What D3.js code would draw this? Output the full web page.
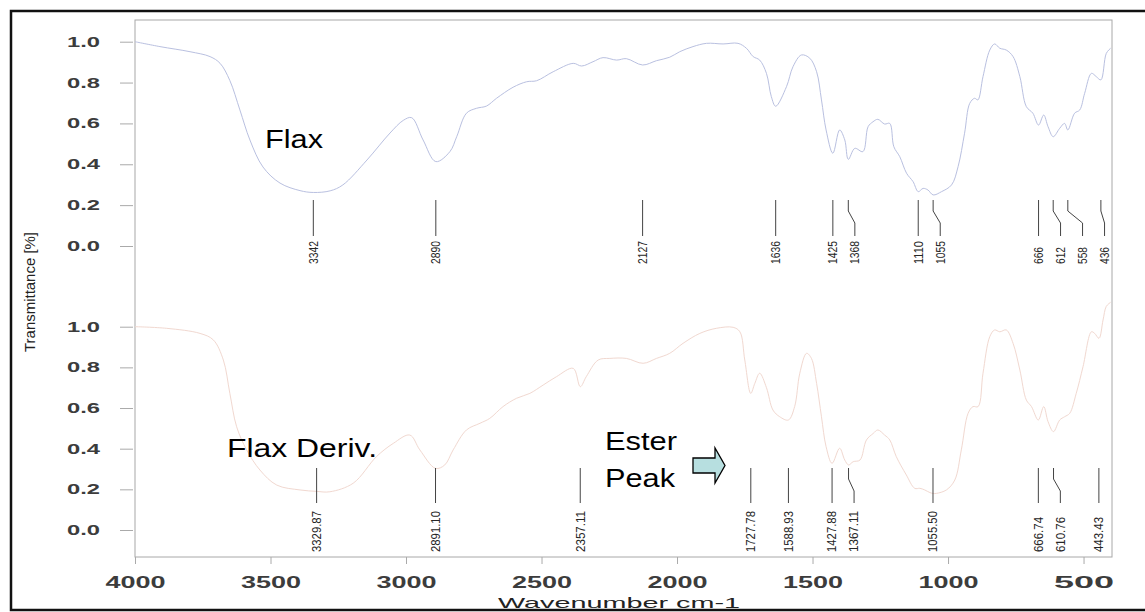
<!DOCTYPE html>
<html>
<head>
<meta charset="utf-8">
<script src="https://cdn.jsdelivr.net/npm/d3@7"></script>
<style>
  html, body { margin: 0; padding: 0; background: #fff; }
  svg { display: block; }
</style>
</head>
<body>
<svg id="chart" width="1145" height="612"></svg>
<script>
// ---------- DATA ----------
const flaxWavenumber = [4000, 3908, 3797, 3723, 3686, 3650, 3613, 3576, 3528, 3465, 3391, 3342, 3280, 3233, 3144, 3059, 3010, 2979, 2937, 2890, 2838, 2813, 2777, 2740, 2703, 2666, 2605, 2555, 2518, 2457, 2383, 2352, 2310, 2273, 2223, 2187, 2127, 2076, 2027, 1990, 1941, 1891, 1830, 1775, 1744, 1719, 1695, 1670, 1652, 1636, 1596, 1572, 1541, 1510, 1485, 1467, 1450, 1425, 1400, 1381, 1368, 1344, 1314, 1295, 1277, 1259, 1234, 1215, 1200, 1178, 1153, 1129, 1110, 1092, 1074, 1055, 1024, 987, 963, 939, 920, 902, 890, 871, 846, 828, 809, 785, 760, 735, 711, 687, 666, 647, 631, 612, 588, 570, 558, 533, 514, 496, 471, 453, 436, 416, 400];
const flaxTransmittance = [1.0, 0.976, 0.951, 0.927, 0.894, 0.81, 0.666, 0.519, 0.387, 0.308, 0.271, 0.262, 0.27, 0.299, 0.421, 0.553, 0.615, 0.628, 0.519, 0.413, 0.462, 0.535, 0.65, 0.674, 0.685, 0.723, 0.777, 0.804, 0.809, 0.853, 0.894, 0.881, 0.902, 0.922, 0.91, 0.917, 0.886, 0.907, 0.924, 0.951, 0.976, 0.992, 0.989, 0.992, 0.968, 0.927, 0.91, 0.845, 0.731, 0.684, 0.78, 0.878, 0.935, 0.919, 0.853, 0.715, 0.568, 0.454, 0.568, 0.519, 0.424, 0.478, 0.462, 0.584, 0.608, 0.62, 0.597, 0.6, 0.486, 0.437, 0.356, 0.315, 0.266, 0.282, 0.274, 0.25, 0.266, 0.299, 0.388, 0.552, 0.698, 0.723, 0.715, 0.829, 0.959, 0.989, 0.968, 0.959, 0.927, 0.829, 0.682, 0.65, 0.592, 0.641, 0.584, 0.535, 0.576, 0.6, 0.568, 0.65, 0.666, 0.747, 0.845, 0.829, 0.813, 0.943, 0.968];

const derivWavenumber = [4000, 3883, 3760, 3711, 3674, 3650, 3625, 3588, 3539, 3477, 3391, 3330, 3281, 3195, 3109, 3047, 2986, 2949, 2891, 2857, 2826, 2777, 2727, 2691, 2642, 2592, 2543, 2494, 2445, 2383, 2357, 2335, 2291, 2248, 2187, 2125, 2076, 2027, 1978, 1916, 1855, 1793, 1768, 1750, 1728, 1713, 1695, 1670, 1646, 1621, 1589, 1566, 1547, 1522, 1504, 1485, 1467, 1450, 1428, 1400, 1381, 1367, 1350, 1325, 1301, 1276, 1259, 1234, 1215, 1191, 1154, 1123, 1104, 1086, 1067, 1055, 1043, 1006, 975, 951, 926, 908, 889, 871, 846, 828, 809, 785, 760, 735, 711, 692, 667, 647, 631, 611, 588, 570, 551, 527, 502, 471, 459, 443, 428, 416, 400];
const derivTransmittance = [1.0, 0.992, 0.967, 0.935, 0.836, 0.672, 0.508, 0.394, 0.295, 0.221, 0.197, 0.19, 0.188, 0.23, 0.361, 0.426, 0.467, 0.394, 0.303, 0.32, 0.394, 0.492, 0.525, 0.549, 0.607, 0.648, 0.672, 0.713, 0.754, 0.795, 0.705, 0.754, 0.836, 0.844, 0.844, 0.82, 0.844, 0.869, 0.918, 0.967, 0.992, 0.997, 0.975, 0.836, 0.672, 0.721, 0.771, 0.7, 0.59, 0.557, 0.541, 0.607, 0.771, 0.869, 0.844, 0.721, 0.557, 0.41, 0.328, 0.402, 0.344, 0.32, 0.336, 0.344, 0.443, 0.475, 0.492, 0.467, 0.443, 0.361, 0.271, 0.205, 0.205, 0.197, 0.184, 0.18, 0.18, 0.197, 0.246, 0.394, 0.574, 0.607, 0.607, 0.771, 0.951, 0.984, 0.975, 0.984, 0.918, 0.787, 0.639, 0.607, 0.541, 0.607, 0.533, 0.484, 0.541, 0.557, 0.574, 0.672, 0.803, 0.975, 0.967, 0.943, 1.033, 1.1, 1.12];

const flaxPeaks = [3342, 2890, 2127, 1636, 1425, 1368, 1110, 1055, 666, 612, 558, 436];
const flaxPeakLabels = ["3342", "2890", "2127", "1636", "1425", "1368", "1110", "1055", "666", "612", "558", "436"];
const derivPeaks = [3329.87, 2891.10, 2357.11, 1727.78, 1588.93, 1427.88, 1367.11, 1055.50, 666.74, 610.76, 443.43];
const derivPeakLabels = ["3329.87", "2891.10", "2357.11", "1727.78", "1588.93", "1427.88", "1367.11", "1055.50", "666.74", "610.76", "443.43"];

const xTickValues = [4000, 3500, 3000, 2500, 2000, 1500, 1000, 500];
const yTickValues = [0, 0.2, 0.4, 0.6, 0.8, 1.0];

// ---------- CHART ----------
const svg = d3.select("#chart");
const plotLeft = 135, plotRight = 1112, plotTop = 20, plotBottom = 557;

const x = d3.scaleLinear().domain([4000, 395]).range([plotLeft, plotRight]);
const yTop = d3.scaleLinear().domain([0, 1]).range([246, 41.7]);
const yBot = d3.scaleLinear().domain([0, 1]).range([530, 326.7]);

// outer frame
svg.append("rect")
  .attr("x", 11).attr("y", 11).attr("width", 1145).attr("height", 599)
  .attr("fill", "none").attr("stroke", "#111").attr("stroke-width", 2.5);

// plot border
svg.append("rect")
  .attr("x", plotLeft).attr("y", plotTop)
  .attr("width", plotRight - plotLeft).attr("height", plotBottom - plotTop)
  .attr("fill", "none").attr("stroke", "#a8a8a8").attr("stroke-width", 1);

// y axes
function drawYAxis(scale) {
  const g = svg.append("g").attr("transform", `translate(${plotLeft - 2},0)`)
    .call(d3.axisLeft(scale).tickValues(yTickValues).tickFormat(d3.format(".1f")).tickSize(13).tickPadding(20));
  g.select(".domain").remove();
  g.selectAll(".tick line").attr("stroke", "#aaa");
  g.selectAll(".tick text")
    .attr("font-family", "'Liberation Sans', Arial, sans-serif")
    .attr("font-size", 14).attr("font-weight", "bold").attr("fill", "#3c3c3c")
    .attr("textLength", 33).attr("lengthAdjust", "spacingAndGlyphs");
}
drawYAxis(yTop);
drawYAxis(yBot);

// x axis
const gx = svg.append("g").attr("transform", `translate(0,${plotBottom})`)
  .call(d3.axisBottom(x).tickValues(xTickValues).tickFormat(d3.format("d")).tickSize(7));
gx.select(".domain").remove();
gx.selectAll(".tick line").attr("stroke", "#aaa");
gx.selectAll(".tick text")
  .attr("y", 31).attr("dy", 0)
  .attr("font-family", "'Liberation Sans', Arial, sans-serif")
  .attr("font-size", 16).attr("font-weight", "bold").attr("fill", "#3c3c3c")
  .attr("textLength", 60).attr("lengthAdjust", "spacingAndGlyphs");

// axis titles
svg.append("text")
  .attr("x", 619).attr("y", 608)
  .attr("text-anchor", "middle")
  .attr("font-family", "'Liberation Sans', Arial, sans-serif")
  .attr("font-size", 15).attr("fill", "#222")
  .attr("textLength", 242).attr("lengthAdjust", "spacingAndGlyphs")
  .text("Wavenumber cm-1");

svg.append("text")
  .attr("transform", "translate(35,292) rotate(-90)")
  .attr("text-anchor", "middle")
  .attr("font-family", "'Liberation Sans Narrow', 'Arial Narrow', 'Liberation Sans', sans-serif")
  .attr("font-size", 14).attr("fill", "#222")
  .attr("textLength", 120).attr("lengthAdjust", "spacingAndGlyphs")
  .text("Transmittance [%]");

// spectra
const line = (ys) => d3.line().x(d => x(d[0])).y(d => ys(d[1])).curve(d3.curveCatmullRom.alpha(0.5));
svg.append("path")
  .datum(d3.zip(flaxWavenumber, flaxTransmittance))
  .attr("d", line(yTop))
  .attr("fill", "none").attr("stroke", "#b9c0e0").attr("stroke-width", 1);
svg.append("path")
  .datum(d3.zip(derivWavenumber, derivTransmittance))
  .attr("d", line(yBot))
  .attr("fill", "none").attr("stroke", "#f1d8d0").attr("stroke-width", 1);

// peak markers
function drawPeaks(peaks, labels, y0, b1, b2, y1, textY) {
  let prev = -Infinity;
  const g = svg.append("g");
  peaks.forEach((p, i) => {
    const px = x(p);
    const lx = Math.max(px, prev + 22);
    prev = lx;
    const pts = [[px, y0], [px, b1], [lx, b2], [lx, y1]];
    g.append("path").attr("d", d3.line()(pts))
      .attr("fill", "none").attr("stroke", "#444").attr("stroke-width", 1);
    const t = labels[i];
    g.append("text")
      .attr("transform", `translate(${lx},${textY}) rotate(-90)`)
      .attr("dy", "0.36em")
      .attr("text-anchor", "start")
      .attr("font-family", "'Liberation Sans Narrow', 'Arial Narrow', sans-serif")
      .attr("font-size", 12).attr("fill", "#262626")
      .attr("textLength", t.length * 6 - 1).attr("lengthAdjust", "spacingAndGlyphs")
      .text(t);
  });
}
drawPeaks(flaxPeaks, flaxPeakLabels, 200, 211, 223, 236, 264);
drawPeaks(derivPeaks, derivPeakLabels, 468, 479, 491, 503, 552);

// annotations
const annFont = "'Liberation Sans', Arial, sans-serif";
function ann(txt, xx, yy, len) {
  svg.append("text").attr("x", xx).attr("y", yy)
    .attr("font-family", annFont).attr("font-size", 26).attr("fill", "#000")
    .attr("textLength", len).attr("lengthAdjust", "spacingAndGlyphs")
    .text(txt);
}
ann("Flax", 265, 148, 58);
ann("Flax Deriv.", 227, 457, 150);
ann("Ester", 605, 450, 72);
ann("Peak", 605, 487, 70);

// block arrow
const arrowPts = [[693, 458], [715, 458], [715, 448], [725, 465.5], [715, 483], [715, 473], [693, 473]];
svg.append("path")
  .attr("d", d3.line()(arrowPts) + "Z")
  .attr("fill", "#b7dfe0").attr("stroke", "#000").attr("stroke-width", 1.3);
</script>
</body>
</html>
